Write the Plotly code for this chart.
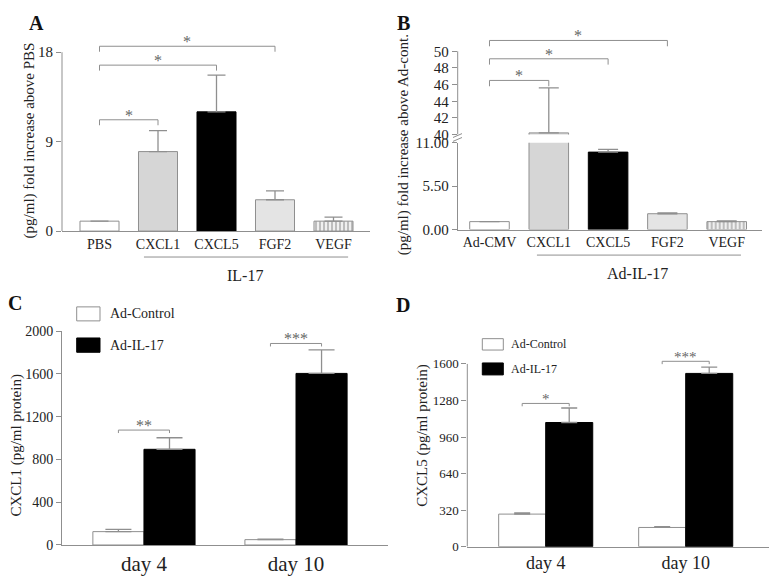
import plotly.graph_objects as go

# the page body has an 8px margin, so the figure is drawn 8px in from the corner
OFF = 8
W, H = 770, 569
FONT = "Liberation Serif"
GREY = "#8f8f8f"
TXT = "#222222"

# ---- panel A: fold increase above PBS
a_cats = ["PBS", "CXCL1", "CXCL5", "FGF2", "VEGF"]
a_vals = [1.0, 8.0, 12.0, 3.15, 1.0]
a_err = [0.0, 2.1, 3.7, 0.9, 0.4]
a_ticks = [0, 9, 18]
a_sig_pairs = [(0, 1), (0, 2), (0, 3)]
a_sig_y = [11.2, 16.7, 18.6]
a_sig_txt = ["*", "*", "*"]

# ---- panel B: fold increase above Ad-cont. (broken axis)
b_cats = ["Ad-CMV", "CXCL1", "CXCL5", "FGF2", "VEGF"]
b_vals = [1.0, 40.2, 9.8, 2.0, 1.0]
b_err = [0.0, 5.4, 0.35, 0.12, 0.08]
b_low_ticks = [0, 5.5, 11]
b_high_ticks = [40, 42, 44, 46, 48, 50]
b_sig_pairs = [(0, 1), (0, 2), (0, 3)]
b_sig_y = [46.5, 49.1, 51.3]
b_sig_txt = ["*", "*", "*"]

# ---- panel C / D: day 4 vs day 10
days = ["day 4", "day 10"]
groups = ["Ad-Control", "Ad-IL-17"]
c_ctrl = [125, 50]
c_ctrl_err = [22, 5]
c_il17 = [895, 1605]
c_il17_err = [108, 220]
c_ticks = [0, 400, 800, 1200, 1600, 2000]
c_sig_y = [1075, 1885]
c_sig_txt = ["**", "***"]

d_ctrl = [285, 168]
d_ctrl_err = [10, 8]
d_il17 = [1087, 1517]
d_il17_err = [127, 55]
d_ticks = [0, 320, 640, 960, 1280, 1600]
d_sig_y = [1254, 1623]
d_sig_txt = ["*", "***"]


def px(p):
    return (p - OFF) / W


def py(p):
    return 1 - (p - OFF) / H


a_colors = ["#ffffff", "#d6d6d6", "#000000", "#e4e4e4", "#f0f0f0"]
a_lines = [GREY, GREY, "#000000", GREY, GREY]
pattern = dict(shape=["", "", "", "", "|"], fgcolor="#a0a0a0",
               bgcolor="#f0f0f0", size=4, solidity=0.3)


def err(arr, w):
    return dict(type="data", array=arr, arrayminus=[0] * len(arr),
                symmetric=False, color=GREY, thickness=1.3, width=w)


fig = go.Figure()

fig.add_trace(go.Bar(x=list(range(5)), y=a_vals, width=0.667,
                     marker=dict(color=a_colors, line=dict(color=a_lines, width=1),
                                 pattern=pattern),
                     error_y=err(a_err, 9), xaxis="x", yaxis="y"))

for ya in ["y2", "y3"]:
    fig.add_trace(go.Bar(x=list(range(5)), y=b_vals, width=0.667,
                         marker=dict(color=a_colors, line=dict(color=a_lines, width=1),
                                     pattern=pattern),
                         error_y=err(b_err, 10), xaxis="x2", yaxis=ya))

for xa, ya, ctrl, ctrl_e, il, il_e, w in [
        ("x3", "y4", c_ctrl, c_ctrl_err, c_il17, c_il17_err, 13),
        ("x4", "y5", d_ctrl, d_ctrl_err, d_il17, d_il17_err, 8)]:
    fig.add_trace(go.Bar(x=[0, 1], y=ctrl, width=0.336, offset=-0.336, name=groups[0],
                         marker=dict(color="white", line=dict(color=GREY, width=1)),
                         error_y=err(ctrl_e, w), xaxis=xa, yaxis=ya))
    fig.add_trace(go.Bar(x=[0, 1], y=il, width=0.336, offset=0, name=groups[1],
                         marker=dict(color="black", line=dict(color="black", width=1)),
                         error_y=err(il_e, w), xaxis=xa, yaxis=ya))

shapes = []
annos = []


def note(text, x, y, size, angle=0, anchor="center", color=TXT):
    annos.append(dict(x=px(x), y=py(y), xref="paper", yref="paper", text=text,
                      textangle=angle, showarrow=False, xanchor=anchor,
                      yanchor="middle", font=dict(family=FONT, size=size, color=color)))


def brackets(xref, yref, pairs, ys, texts, drop, fsize):
    for (i, j), h, t in zip(pairs, ys, texts):
        shapes.append(dict(type="path", xref=xref, yref=yref,
                           path=f"M {i},{h - drop} L {i},{h} L {j},{h} L {j},{h - drop}",
                           line=dict(color=GREY, width=1)))
        annos.append(dict(x=(i + j) / 2, y=h, xref=xref, yref=yref, text=t,
                          showarrow=False, xanchor="center", yanchor="bottom", yshift=-6,
                          font=dict(family=FONT, size=fsize, color="#666666")))


brackets("x", "y", a_sig_pairs, a_sig_y, a_sig_txt, 0.55, 16)
brackets("x2", "y3", b_sig_pairs, b_sig_y, b_sig_txt, 0.7, 16)
brackets("x3", "y4", [(-0.168, 0.168), (0.832, 1.168)], c_sig_y, c_sig_txt, 28, 16)
brackets("x4", "y5", [(-0.168, 0.168), (0.832, 1.168)], d_sig_y, d_sig_txt, 25, 15)

# y axis lines that stop at the last tick
for xref, yref, y0, y1 in [("x domain", "y", 0, 18), ("x2 domain", "y3", 40, 50),
                           ("x4 domain", "y5", 0, 1600)]:
    shapes.append(dict(type="line", xref=xref, yref=yref, x0=0, x1=0, y0=y0, y1=y1,
                       line=dict(color=GREY, width=1)))

# axis break marks on B
for y0 in [133, 137]:
    shapes.append(dict(type="line", xref="paper", yref="paper",
                       x0=px(453), x1=px(462), y0=py(y0), y1=py(y0 - 4),
                       line=dict(color=GREY, width=1)))

# group lines under A and B
for xref, x0, x1, yl, label, lx, ly in [("x", 0.76, 4.25, 256, "IL-17", 245, 275),
                                        ("x2", 0.80, 4.24, 254, "Ad-IL-17", 637, 273)]:
    shapes.append(dict(type="line", xref=xref, yref="paper", x0=x0, x1=x1,
                       y0=py(yl), y1=py(yl), line=dict(color=GREY, width=1)))
    note(label, lx, ly, 16)

# custom legends for C and D
for bx0, bx1, tx, rows, fsize in [
        (76.7, 100, 108, [(307.3, 321.7), (339.3, 354)], 14),
        (482.3, 503.3, 509.3, [(340, 351.7), (365, 377.3)], 12)]:
    for k, (t0, t1) in enumerate(rows):
        shapes.append(dict(type="rect", xref="paper", yref="paper",
                           x0=px(bx0), x1=px(bx1), y0=py(t1), y1=py(t0),
                           fillcolor="white" if k == 0 else "black",
                           line=dict(color=GREY if k == 0 else "black", width=1)))
        note(groups[k], tx, (t0 + t1) / 2, fsize, anchor="left")

# y titles
note("(pg/ml) fold increase above PBS", 29, 136, 15, angle=-90)
note("(pg/ml) fold increase above Ad-cont.", 403, 141, 15, angle=-90)
note("CXCL1 (pg/ml protein)", 17, 450, 15, angle=-90)
note("CXCL5 (pg/ml protein)", 423, 440, 15, angle=-90)

# panel letters
for text, x, y in [("A", 36, 15), ("B", 403, 15), ("C", 15, 303), ("D", 403, 305)]:
    note(f"<b>{text}</b>", x, y, 20, color="#111111")

xbase = dict(showline=True, linecolor=GREY, linewidth=1, ticks="", showgrid=False,
             zeroline=False, fixedrange=True)
ybase = dict(ticks="outside", ticklen=5, tickcolor=GREY, showgrid=False,
             zeroline=False, linecolor=GREY, linewidth=1)

fig.update_layout(
    width=W, height=H, margin=dict(l=0, r=0, t=0, b=0),
    paper_bgcolor="white", plot_bgcolor="white", showlegend=False,
    font=dict(family=FONT, color=TXT),
    shapes=shapes, annotations=annos,
    xaxis=dict(xbase, domain=[px(62), px(370)], range=[-0.641, 4.624], anchor="y",
               tickvals=list(range(5)), ticktext=a_cats, tickfont=dict(size=14)),
    yaxis=dict(ybase, domain=[py(229.3), py(19.7)], range=[0, 20.5], anchor="x",
               showline=False, tickvals=a_ticks, tickfont=dict(size=15)),
    xaxis2=dict(xbase, domain=[px(457.7), px(761.7)], range=[-0.536, 4.59], anchor="y2",
                tickvals=list(range(5)), ticktext=b_cats, tickfont=dict(size=14)),
    yaxis2=dict(ybase, domain=[py(227.7), py(138.3)], range=[0, 11], anchor="x2",
                showline=True, tickvals=b_low_ticks, tickformat=".2f",
                tickfont=dict(size=15)),
    yaxis3=dict(ybase, domain=[py(130), py(18.6)], range=[40, 53], anchor="x2",
                showline=False, tickvals=b_high_ticks, tickfont=dict(size=15)),
    xaxis3=dict(xbase, domain=[px(62), px(388)], range=[-0.539, 1.605], anchor="y4",
                tickvals=[0, 1], ticktext=days, tickfont=dict(size=21)),
    yaxis4=dict(ybase, domain=[py(552.3), py(332.3)], range=[0, 2000], anchor="x3",
                showline=True, tickvals=c_ticks, tickfont=dict(size=14)),
    xaxis4=dict(xbase, domain=[px(467.3), px(769)], range=[-0.56, 1.595], anchor="y5",
                tickvals=[0, 1], ticktext=days, tickfont=dict(size=18)),
    yaxis5=dict(ybase, domain=[py(554), py(354.25)], range=[0, 1700], anchor="x4",
                showline=False, tickvals=d_ticks, tickfont=dict(size=13)),
)

fig.write_html("out.html")
